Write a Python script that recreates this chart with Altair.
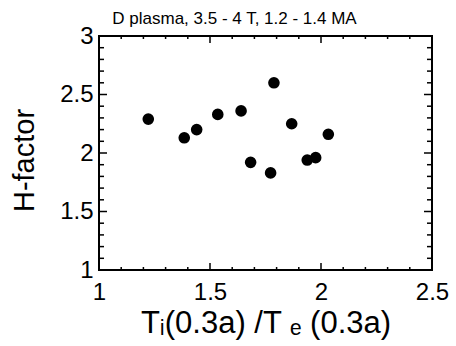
import altair as alt
import pandas as pd

# Data
ti_te_ratio = [1.222, 1.384, 1.440, 1.535, 1.640, 1.683, 1.773, 1.788, 1.868, 1.938, 1.976, 2.033]
h_factor = [2.29, 2.13, 2.20, 2.33, 2.36, 1.92, 1.83, 2.60, 2.25, 1.94, 1.96, 2.16]

x_tick_labels = [1.0, 1.5, 2.0, 2.5]
y_tick_labels = [1.0, 1.5, 2.0, 2.5, 3.0]
x_major_ticks = [1.5, 2.0]
x_minor_ticks = [1.1, 1.2, 1.3, 1.4, 1.6, 1.7, 1.8, 1.9, 2.1, 2.2, 2.3, 2.4]
y_major_ticks = [1.5, 2.0, 2.5]
y_minor_ticks = [1.1, 1.2, 1.3, 1.4, 1.6, 1.7, 1.8, 1.9,
                 2.1, 2.2, 2.3, 2.4, 2.6, 2.7, 2.8, 2.9]

title_text = "D plasma, 3.5 - 4 T, 1.2 - 1.4 MA"
x_title = "T\u1d62(0.3a) /T \u2091 (0.3a)"
y_title = "H-factor"

W, H = 333, 234
FONT = "Liberation Sans"

df = pd.DataFrame({"ratio": ti_te_ratio, "h": h_factor})
xscale = alt.Scale(domain=[1, 2.5], nice=False, zero=False)
yscale = alt.Scale(domain=[1, 3], nice=False, zero=False)

xaxis = alt.Axis(values=x_tick_labels, format="~g", title=x_title,
                 ticks=False, domain=False, grid=False,
                 labelFont=FONT, labelFontSize=24, labelColor="black",
                 labelPadding=10, labelFlush=False, labelOverlap=False,
                 titleFont=FONT, titleFontSize=31, titleFontWeight="normal",
                 titleColor="black", titleBaseline="alphabetic",
                 titleY=62)
yaxis = alt.Axis(values=y_tick_labels, format="~g", title=y_title,
                 ticks=False, domain=False, grid=False,
                 labelFont=FONT, labelFontSize=24, labelColor="black",
                 labelPadding=6, labelFlush=False, labelOverlap=False,
                 titleFont=FONT, titleFontSize=29, titleFontWeight="normal",
                 titleColor="black", titleAngle=270, titleAlign="center",
                 titleBaseline="middle", titleX=-75, titleY=124)

points = alt.Chart(df).mark_circle(size=135, color="black", opacity=1).encode(
    x=alt.X("ratio:Q", scale=xscale, axis=xaxis),
    y=alt.Y("h:Q", scale=yscale, axis=yaxis),
)


def xticks(vals, length, side):
    d = pd.DataFrame({"ratio": vals})
    if side == "bottom":
        y0, y1 = H, H - length
    else:
        y0, y1 = 0, length
    return alt.Chart(d).mark_rule(color="black", strokeWidth=1.5).encode(
        x=alt.X("ratio:Q", scale=xscale, axis=xaxis),
        y=alt.value(y0), y2=alt.value(y1))


def yticks(vals, length, side):
    d = pd.DataFrame({"h": vals})
    if side == "left":
        x0, x1 = 0, length
    else:
        x0, x1 = W, W - length
    return alt.Chart(d).mark_rule(color="black", strokeWidth=1.5).encode(
        y=alt.Y("h:Q", scale=yscale, axis=yaxis),
        x=alt.value(x0), x2=alt.value(x1))


layers = [
    points,
    xticks(x_major_ticks, 7, "bottom"), xticks(x_minor_ticks, 3, "bottom"),
    xticks(x_major_ticks, 7, "top"), xticks(x_minor_ticks, 3, "top"),
    yticks(y_major_ticks, 8, "left"), yticks(y_minor_ticks, 5, "left"),
    yticks(y_major_ticks, 8, "right"), yticks(y_minor_ticks, 5, "right"),
]

chart = alt.layer(*layers).properties(
    width=W, height=H,
    title=alt.TitleParams(text=title_text, font=FONT, fontSize=17,
                          fontWeight="normal", color="black", anchor="middle",
                          dx=-31, dy=13, offset=9),
    autosize=alt.AutoSizeParams(type="none"),
    padding={"left": 99, "top": 36, "right": 24, "bottom": 76},
    background="white",
).configure_view(stroke="black", strokeWidth=2)

chart.save("out.html", embed_options={"renderer": "svg", "actions": False})
